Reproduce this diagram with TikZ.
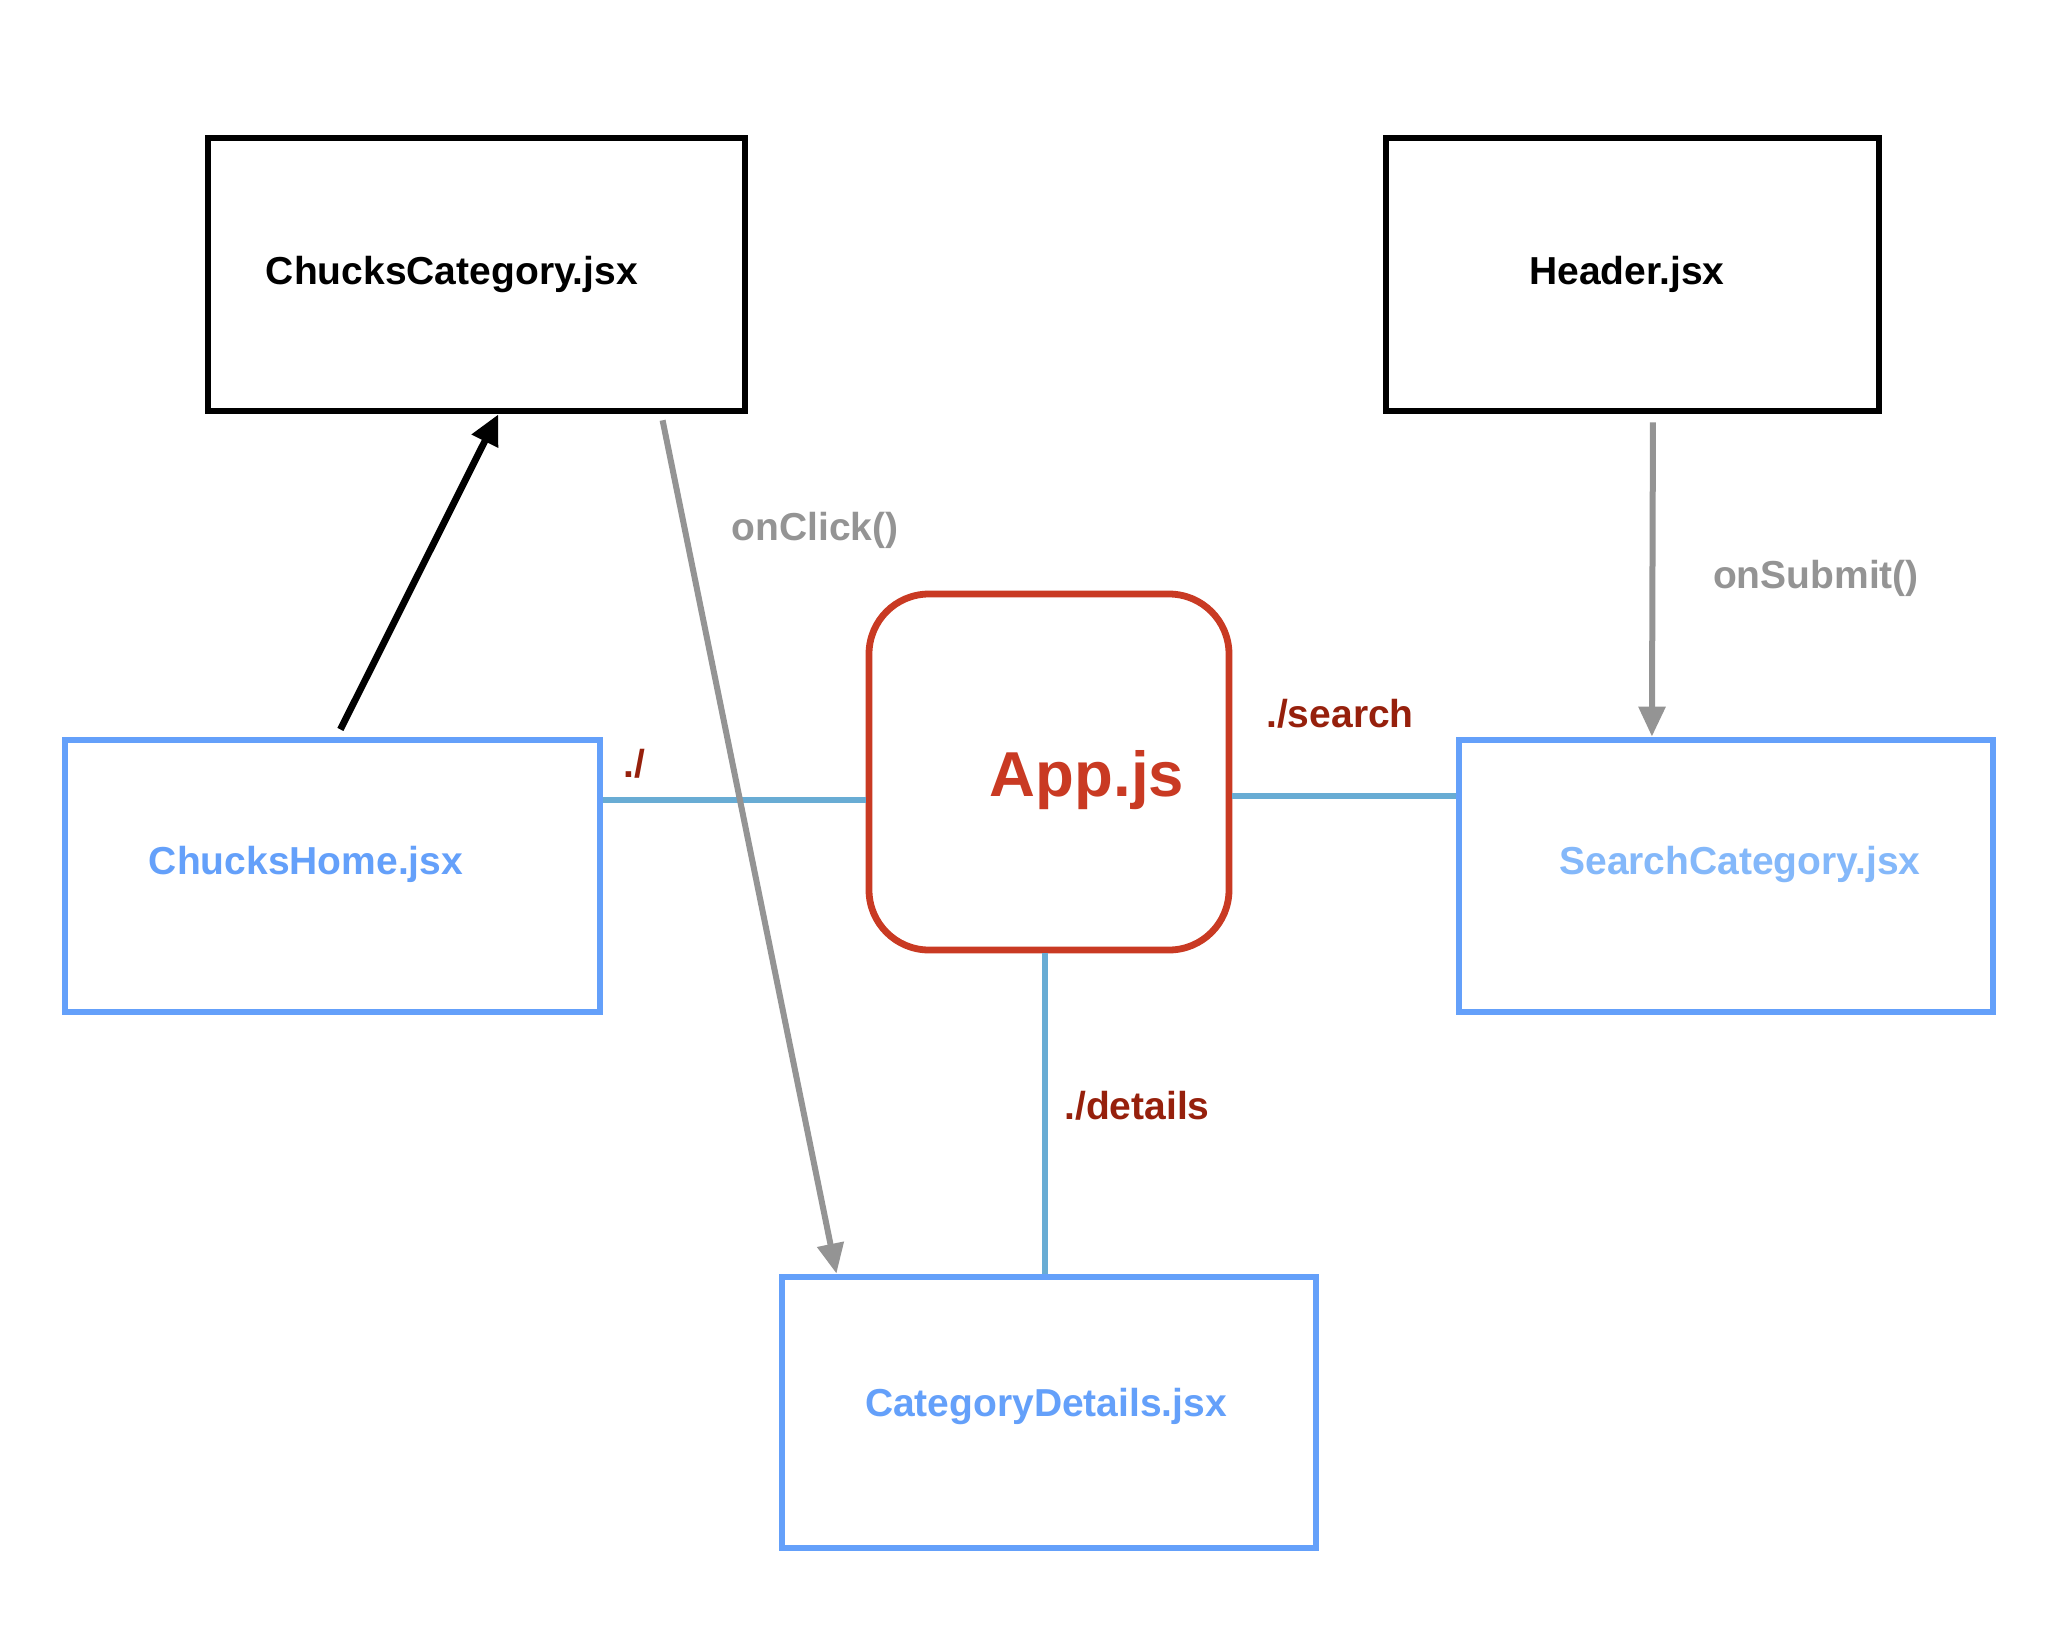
\documentclass[tikz,border=0pt]{standalone}
\usepackage{fontspec}
\setmainfont{Liberation Sans}
\usetikzlibrary{arrows.meta,calc}
\definecolor{boxblue}{RGB}{100,160,250}
\definecolor{lightblue}{RGB}{132,184,250}
\definecolor{linkblue}{RGB}{104,172,212}
\definecolor{appred}{RGB}{201,58,35}
\definecolor{routered}{RGB}{150,32,12}
\definecolor{arrowgray}{RGB}{148,148,148}
\begin{document}
\begin{tikzpicture}[x=0.5pt,y=-0.5pt,
  comp/.style={rectangle, line width=3.4pt, fill=white, inner sep=0pt},
  blackcomp/.style={comp, draw=black},
  bluecomp/.style={comp, draw=boxblue},
  txt/.style={font=\fontsize{19.5}{23}\selectfont\bfseries, inner sep=0pt},
  flow/.style={arrowgray, line width=3pt, -{Triangle[length=15pt,width=13pt]}},
  uses/.style={black, line width=3.4pt, -{Triangle[length=15pt,width=14pt]}},
  route/.style={linkblue, line width=3pt}]
\useasboundingbox (0,0) rectangle (2068,1634);

% components
\node[blackcomp, minimum width=268.5pt, minimum height=136.5pt] (cc) at (476.5,274.5) {};
\node[blackcomp, minimum width=246.5pt, minimum height=136.5pt] (hd) at (1632.5,274.5) {};
\node[bluecomp, minimum width=267.5pt, minimum height=136pt] (ch) at (332.5,876) {};
\node[bluecomp, minimum width=267pt, minimum height=136pt] (sc) at (1726,876) {};
\node[bluecomp, minimum width=267pt, minimum height=135.5pt] (cd) at (1049,1412.5) {};
\node[comp, draw=appred, rounded corners=30pt, minimum width=180pt, minimum height=178pt] (app) at (1049,772) {};

% texts
\node[txt] (ccT) at (452,274) {ChucksCategory.jsx};
\node[txt] (hdT) at (1627,274) {Header.jsx};
\node[txt, text=boxblue] (chT) at (306,864) {ChucksHome.jsx};
\node[txt, text=lightblue] (scT) at (1740,864) {SearchCategory.jsx};
\node[txt, text=boxblue] (cdT) at (1046,1406) {CategoryDetails.jsx};
\node[font=\fontsize{31.75}{36}\selectfont\bfseries, text=appred, inner sep=0pt] (appT) at (1087,780) {App.js};

% routes
\coordinate (r1) at ($(ch.north east)!0.228!(ch.south east)$);
\draw[route] (r1) -- (r1 -| app.west);
\coordinate (r2) at ($(app.north east)!0.565!(app.south east)$);
\draw[route] (r2) -- (r2 -| sc.west);
\coordinate (r3) at ($(app.south)+(-4,0)$);
\draw[route] (r3) -- (r3 |- cd.north);

% arrows
\draw[uses, shorten <=4pt] ($(ch.north west)!0.508!(ch.north east)$) -- ($(cc.south west)!0.540!(cc.south east)$);
\draw[flow, shorten <=3pt] ($(cc.south west)!0.84!(cc.south east)$) -- ($(cd.north west)!0.107!(cd.north east)$);
\draw[flow, shorten <=4pt] ($(hd.south west)!0.541!(hd.south east)$) -- ($(sc.north west)!0.363!(sc.north east)$);

% labels
\node[txt, text=arrowgray] (lclick) at (815,530) {onClick()};
\node[txt, text=arrowgray] (lsubmit) at (1816,578) {onSubmit()};
\node[txt, text=routered] (lsearch) at (1340,714) {./search};
\node[txt, text=routered] (lroot) at (634,764) {./};
\node[txt, text=routered] (ldetails) at (1137,1106) {./details};
\end{tikzpicture}
\end{document}
